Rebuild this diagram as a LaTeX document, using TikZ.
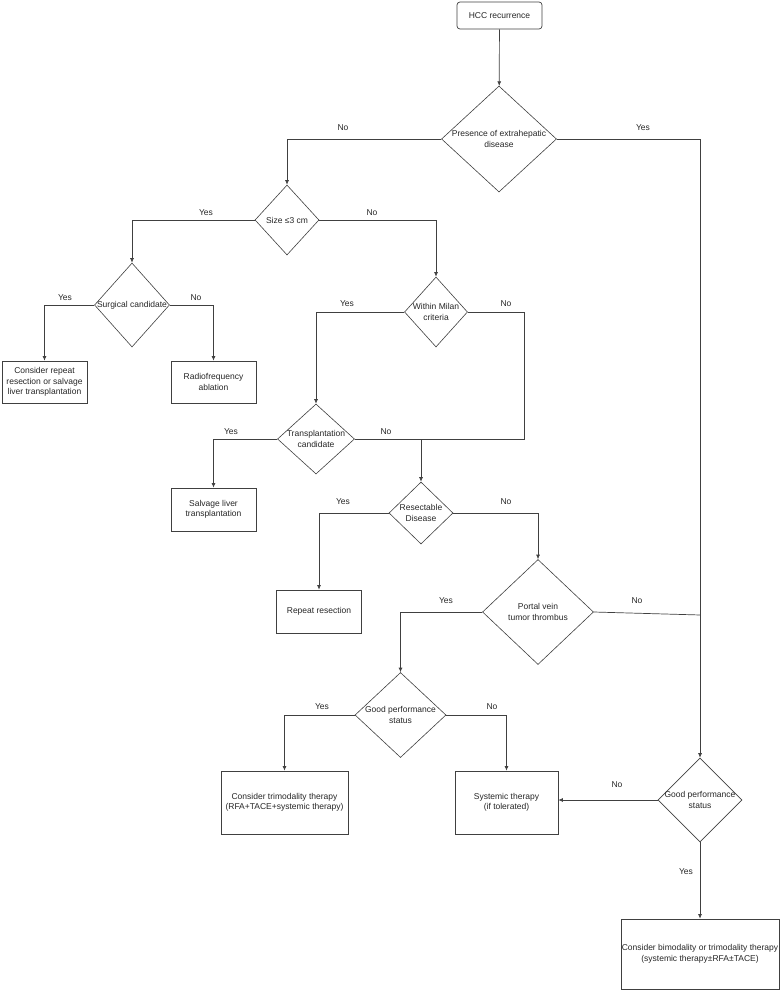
\documentclass[tikz,border=0pt]{standalone}
\usepackage{fontspec}
\setmainfont{Liberation Sans}
\usetikzlibrary{arrows.meta, positioning, calc, shapes.geometric}

\begin{document}
\begin{tikzpicture}[
            x=1pt,
            y=-1pt,
            >={Latex[length=4.5pt,width=4pt]},
            every node/.style={font=\fontsize{8.5}{10.5}\selectfont, text=black!85},
            every label/.style={align=center},
            box/.style={draw=black!75, line width=0.7pt, align=center, inner sep=0pt},
            decision/.style={diamond, draw=black!75, line width=0.6pt, inner sep=0pt},
            flow/.style={draw=black!75, line width=0.7pt}
            ]

            \useasboundingbox (0,0) rectangle (781,991);

            % start
            \node[box, rounded corners=3pt, minimum width=85pt, minimum height=27pt] (hcc) at (499.5,15.5) {HCC recurrence};

            % decisions
            \node[decision, minimum width=115pt, minimum height=106pt, label=center:{Presence of extrahepatic\\disease}] (ehd) at (499,139) {};
            \node[decision, minimum width=64pt, minimum height=70pt, label=center:{Size ≤3 cm}] (size) at (287,220) {};
            \node[decision, minimum width=75pt, minimum height=84pt, label=center:{Surgical candidate}] (surg) at (132,305) {};
            \node[decision, minimum width=63pt, minimum height=70pt, label=center:{Within Milan\\criteria}] (milan) at (436,312) {};
            \node[decision, minimum width=77pt, minimum height=70pt, label=center:{Transplantation\\candidate}] (trans) at (316,439) {};
            \node[decision, minimum width=64pt, minimum height=62pt, label=center:{Resectable\\Disease}] (resect) at (421,513) {};
            \node[decision, minimum width=111pt, minimum height=105pt, label=center:{Portal vein\\tumor thrombus}] (pvtt) at (538,612) {};
            \node[decision, minimum width=91pt, minimum height=85pt, label=center:{Good performance\\status}] (gps1) at (400.5,715) {};
            \node[decision, minimum width=84pt, minimum height=84pt, label=center:{Good performance\\status}] (gps2) at (700,800) {};

            % outcomes
            \node[box, minimum width=85pt, minimum height=42pt] (repsalv) at (44.5,382) {Consider repeat\\resection or salvage\\liver transplantation};
            \node[box, minimum width=85pt, minimum height=42pt] (rfa) at (213.5,382) {Radiofrequency\\ablation};
            \node[box, minimum width=85pt, minimum height=43pt] (salv) at (213.5,509.5) {Salvage liver\\transplantation};
            \node[box, minimum width=85pt, minimum height=43pt] (rep) at (319,611.5) {Repeat resection};
            \node[box, minimum width=127pt, minimum height=63pt] (tri) at (284.5,802.5) {Consider trimodality therapy\\(RFA+TACE+systemic therapy)};
            \node[box, minimum width=103pt, minimum height=63pt] (sys) at (506.5,802.5) {Systemic therapy\\(if tolerated)};
            \node[box, minimum width=158pt, minimum height=70pt] (bi) at (700,954) {Consider bimodality or trimodality therapy\\(systemic therapy±RFA±TACE)};

            % joins
            \coordinate (mr) at (524,439);
            \coordinate (mj) at (resect.north |- trans.east);
            \coordinate (pj) at (700.5,615);

            % connectors
            \draw[flow, ->] (hcc) -- (ehd);
            \draw[flow, ->] (ehd.west) -| (size.north);
            \draw[flow, ->] (ehd.east) -| (gps2.north);
            \draw[flow, ->] (size.west) -| (surg.north);
            \draw[flow, ->] (size.east) -| (milan.north);
            \draw[flow, ->] (surg.west) -| (repsalv.north);
            \draw[flow, ->] (surg.east) -| (rfa.north);
            \draw[flow, ->] (milan.west) -| (trans.north);
            \draw[flow] (milan.east) -| (mr) -- (trans.east);
            \draw[flow, ->] (trans.west) -| (salv.north);
            \draw[flow, ->] (mj) -- (resect.north);
            \draw[flow, ->] (resect.west) -| (rep.north);
            \draw[flow, ->] (resect.east) -| (pvtt.north);
            \draw[flow, ->] (pvtt.west) -| (gps1.north);
            \draw[flow] (pvtt.east) -- (pj);
            \draw[flow, ->] (gps1.west) -| (tri.north);
            \draw[flow, ->] (gps1.east) -| (sys.north);
            \draw[flow, ->] (gps2.west) -- (gps2.west -| sys.east);
            \draw[flow, ->] (gps2.south) -- (bi.north);

            % branch labels
            \node (ehdno) at (343,128) {No};
            \node (ehdyes) at (643,128) {Yes};
            \node (sizeyes) at (206,213) {Yes};
            \node (sizeno) at (372,213) {No};
            \node (surgyes) at (65,298) {Yes};
            \node (surgno) at (196,298) {No};
            \node (milanyes) at (347,304) {Yes};
            \node (milanno) at (506,304) {No};
            \node (transyes) at (231,432) {Yes};
            \node (transno) at (386,432) {No};
            \node (resectyes) at (343,502) {Yes};
            \node (resectno) at (506,502) {No};
            \node (pvttyes) at (446,601) {Yes};
            \node (pvttno) at (637,601) {No};
            \node (gpsyes) at (322,707) {Yes};
            \node (gpsno) at (492,707) {No};
            \node (gpsrno) at (617,785) {No};
            \node (gpsryes) at (686,872) {Yes};
        \end{tikzpicture}
\end{document}
